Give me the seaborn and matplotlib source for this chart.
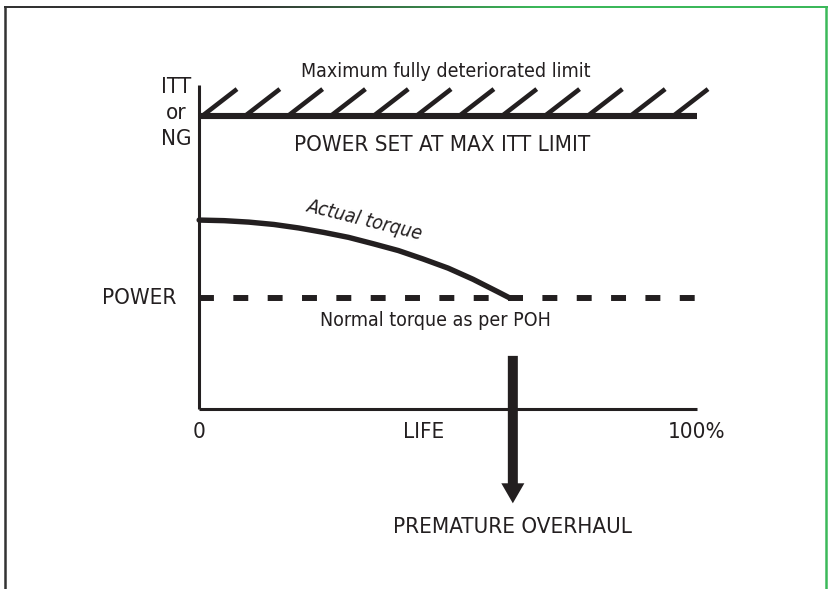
import matplotlib
matplotlib.use("Agg")
import matplotlib.pyplot as plt
import seaborn as sns
import numpy as np
from matplotlib import font_manager as fm
from matplotlib.lines import Line2D
from matplotlib.patches import FancyArrowPatch

# life in % of TBO, levels in arbitrary units (0 = bottom of the axis)
life_curve = [0, 5, 10, 15, 20, 25, 30, 35, 40, 45, 50, 55, 60, 62.4]
torque_actual = [64.5, 64.3, 63.8, 63.0, 61.8, 60.3, 58.6, 56.4, 54.1, 51.2, 48.1, 44.3, 40.0, 37.9]
itt_limit = 100
power_normal = 37.9
axis_top = 110.6
hatch_base = [0.6, 9.2, 17.8, 26.4, 35.0, 43.6, 52.2, 60.8, 69.4, 78.0, 86.6, 95.2]
hatch_dx, hatch_top = 7.0, 109.2
overhaul_life = 63.0
x_ticks = [0, 45, 100]
x_tick_labels = ["0", "LIFE", "100%"]

ink = "#231f20"

sns.set_theme(style="white")
names = {f.name for f in fm.fontManager.ttflist}
if "Liberation Sans Narrow" in names:
    fam, stretch = "Liberation Sans Narrow", "normal"
else:
    fam, stretch = "DejaVu Sans", "condensed"
plt.rcParams["font.family"] = [fam, "DejaVu Sans"]

fig = plt.figure(figsize=(8.29, 5.89), dpi=100)
ax = fig.add_axes([0, 0, 1, 1])
ax.set_xlim(-40, 126.5)
ax.set_ylim(-61.4, 139.6)
ax.axis("off")

# axes of the diagram
ax.plot([0, 0], [0, axis_top], color=ink, lw=2.2, solid_capstyle="butt")
ax.plot([0, 100], [0, 0], color=ink, lw=2.2, solid_capstyle="butt")

# max ITT limit with hatching
ax.plot([0, 100], [itt_limit, itt_limit], color=ink, lw=4.4, solid_capstyle="butt")
for hb in hatch_base:
    ax.plot([hb, hb + hatch_dx], [itt_limit, hatch_top], color=ink, lw=3.3,
            solid_capstyle="butt")

# normal power (dashed)
ax.plot([0, 100], [power_normal, power_normal], color=ink, lw=4.3,
        dashes=(2.5, 3.25), dash_capstyle="butt")

# actual torque curve
sns.lineplot(x=life_curve, y=torque_actual, ax=ax, color=ink, lw=3.9,
             sort=False, estimator=None)
ax.lines[-1].set_solid_joinstyle("round")

# premature overhaul arrow
arr = FancyArrowPatch((overhaul_life, 19.1), (overhaul_life, -33.1),
                      arrowstyle="simple,head_width=16.6,head_length=14.4,tail_width=7.2",
                      mutation_scale=1, color=ink, lw=0, zorder=5)
ax.add_patch(arr)

big = dict(fontsize=16, color=ink, fontstretch=stretch)
small = dict(fontsize=14, color=ink, fontstretch=stretch)

ax.text(-4.6, 109.9, "ITT", ha="center", va="center", **big)
ax.text(-4.6, 101.0, "or", ha="center", va="center", **big)
ax.text(-4.6, 92.2, "NG", ha="center", va="center", **big)
ax.text(-4.6, power_normal, "POWER", ha="right", va="center", **big)
ax.text(49.6, 115.2, "Maximum fully deteriorated limit", ha="center", va="center", **small)
ax.text(48.8, 90.1, "POWER SET AT MAX ITT LIMIT", ha="center", va="center", **big)
ax.text(33.3, 64.4, "Actual torque", ha="center", va="center", rotation=-14,
        rotation_mode="anchor", style="italic", **small)
ax.text(47.4, 30.2, "Normal torque as per POH", ha="center", va="center", **small)
for xt, lab in zip(x_ticks, x_tick_labels):
    ax.text(xt, -7.8, lab, ha="center", va="center", **big)
ax.text(overhaul_life, -40.3, "PREMATURE OVERHAUL", ha="center", va="center", **big)

# page frame: dark on the left fading to green on the right
W, H = 829, 589
x0, x1, yt = 5.5 / W, 826.5 / W, 1 - 7 / H
fig.add_artist(Line2D([x0, x0], [0, yt], color="#333333", lw=1.8, transform=fig.transFigure))
fig.add_artist(Line2D([x1, x1], [0, yt], color="#3cb95a", lw=1.8, transform=fig.transFigure))
dark = np.array([0.2, 0.2, 0.2])
green = np.array([0.235, 0.725, 0.353])
t = np.clip((np.linspace(0, 1, 400) - 0.3) / 0.35, 0, 1)[:, None]
strip = (dark * (1 - t) + green * t)[None, :, :]
bax = fig.add_axes([x0 - 1.2 / W, yt - 1.25 / H, x1 - x0 + 2.4 / W, 2.5 / H])
bax.imshow(strip, aspect="auto", interpolation="bilinear")
bax.axis("off")

fig.savefig("out.png", dpi=100)
